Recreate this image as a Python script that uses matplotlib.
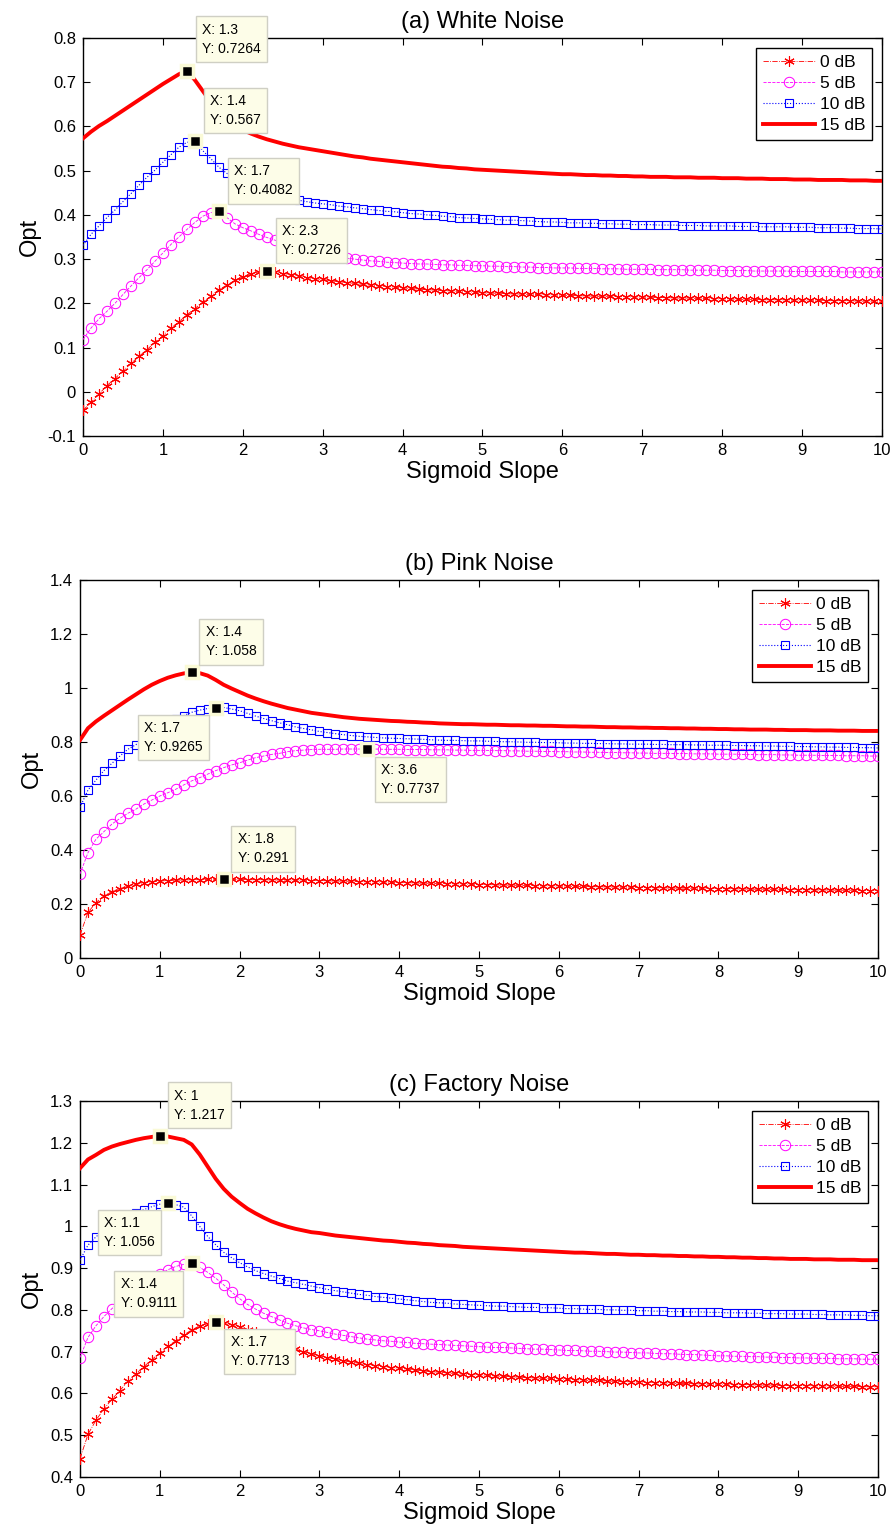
import matplotlib
matplotlib.use('Agg')
import matplotlib.pyplot as plt
import numpy as np
from matplotlib.ticker import FormatStrFormatter, MultipleLocator

plt.rcParams['font.family'] = ['Liberation Sans', 'DejaVu Sans']
plt.rcParams['axes.unicode_minus'] = False

# ---------------- data ----------------
slope = np.linspace(0, 10, 101)
labels = ['0 dB', '5 dB', '10 dB', '15 dB']
titles = ['(a) White Noise', '(b) Pink Noise', '(c) Factory Noise']

white_0 = [
-0.042, -0.024, -0.005, 0.014, 0.030, 0.047, 0.064, 0.080, 0.095, 0.112,
0.127, 0.144, 0.158, 0.174, 0.188, 0.203, 0.216, 0.231, 0.241, 0.252,
0.260, 0.267, 0.271, 0.2726, 0.270, 0.267, 0.264, 0.261, 0.258, 0.256,
0.254, 0.251, 0.249, 0.247, 0.245, 0.243, 0.241, 0.239, 0.238, 0.236,
0.235, 0.234, 0.232, 0.231, 0.230, 0.229, 0.228, 0.227, 0.226, 0.225,
0.224, 0.223, 0.223, 0.222, 0.221, 0.221, 0.220, 0.220, 0.219, 0.219,
0.218, 0.218, 0.217, 0.217, 0.216, 0.216, 0.216, 0.215, 0.215, 0.214,
0.214, 0.214, 0.213, 0.213, 0.212, 0.212, 0.212, 0.211, 0.211, 0.210,
0.210, 0.210, 0.209, 0.209, 0.209, 0.208, 0.208, 0.208, 0.208, 0.207,
0.207, 0.207, 0.207, 0.206, 0.206, 0.206, 0.206, 0.205, 0.205, 0.205,
0.205]
white_5 = [
0.118, 0.144, 0.165, 0.182, 0.200, 0.220, 0.239, 0.258, 0.276, 0.295,
0.314, 0.333, 0.350, 0.367, 0.383, 0.397, 0.405, 0.4082, 0.394, 0.380,
0.371, 0.364, 0.356, 0.349, 0.343, 0.336, 0.330, 0.324, 0.319, 0.315,
0.311, 0.308, 0.305, 0.302, 0.300, 0.298, 0.296, 0.295, 0.293, 0.292,
0.291, 0.290, 0.289, 0.289, 0.288, 0.287, 0.287, 0.286, 0.286, 0.285,
0.285, 0.284, 0.284, 0.283, 0.283, 0.282, 0.282, 0.281, 0.281, 0.280,
0.280, 0.280, 0.279, 0.279, 0.279, 0.278, 0.278, 0.278, 0.277, 0.277,
0.277, 0.277, 0.276, 0.276, 0.276, 0.276, 0.275, 0.275, 0.275, 0.275,
0.274, 0.274, 0.274, 0.274, 0.273, 0.273, 0.273, 0.273, 0.273, 0.272,
0.272, 0.272, 0.272, 0.272, 0.272, 0.271, 0.271, 0.271, 0.271, 0.271,
0.271]
white_10 = [
0.331, 0.356, 0.375, 0.394, 0.411, 0.430, 0.448, 0.467, 0.485, 0.501,
0.519, 0.536, 0.553, 0.564, 0.567, 0.545, 0.527, 0.508, 0.494, 0.482,
0.472, 0.464, 0.457, 0.451, 0.446, 0.441, 0.437, 0.433, 0.430, 0.427,
0.425, 0.423, 0.420, 0.418, 0.416, 0.414, 0.412, 0.410, 0.408, 0.407,
0.405, 0.403, 0.402, 0.400, 0.399, 0.397, 0.396, 0.394, 0.393, 0.392,
0.391, 0.390, 0.389, 0.388, 0.388, 0.387, 0.386, 0.385, 0.384, 0.384,
0.383, 0.382, 0.382, 0.381, 0.381, 0.380, 0.380, 0.379, 0.379, 0.378,
0.378, 0.378, 0.377, 0.377, 0.377, 0.376, 0.376, 0.376, 0.375, 0.375,
0.375, 0.375, 0.374, 0.374, 0.374, 0.373, 0.373, 0.373, 0.373, 0.372,
0.372, 0.372, 0.371, 0.371, 0.371, 0.370, 0.370, 0.369, 0.369, 0.369,
0.368]
white_15 = [
0.573, 0.588, 0.601, 0.612, 0.624, 0.636, 0.648, 0.660, 0.672, 0.684,
0.696, 0.707, 0.718, 0.7264, 0.705, 0.680, 0.655, 0.635, 0.618, 0.603,
0.592, 0.584, 0.577, 0.571, 0.566, 0.561, 0.557, 0.553, 0.550, 0.547,
0.544, 0.541, 0.538, 0.535, 0.532, 0.530, 0.527, 0.525, 0.523, 0.521,
0.519, 0.517, 0.515, 0.513, 0.511, 0.509, 0.508, 0.506, 0.505, 0.503,
0.502, 0.501, 0.500, 0.499, 0.498, 0.497, 0.496, 0.495, 0.494, 0.493,
0.492, 0.492, 0.491, 0.490, 0.490, 0.489, 0.489, 0.488, 0.488, 0.487,
0.487, 0.486, 0.486, 0.486, 0.485, 0.485, 0.485, 0.484, 0.484, 0.484,
0.483, 0.483, 0.483, 0.482, 0.482, 0.482, 0.481, 0.481, 0.481, 0.480,
0.480, 0.480, 0.479, 0.479, 0.479, 0.479, 0.478, 0.478, 0.478, 0.477,
0.477]

pink_0 = [
0.085, 0.169, 0.205, 0.230, 0.246, 0.257, 0.267, 0.273, 0.278, 0.282,
0.285, 0.287, 0.288, 0.289, 0.290, 0.290, 0.291, 0.291, 0.291, 0.291,
0.291, 0.290, 0.290, 0.290, 0.289, 0.289, 0.289, 0.288, 0.288, 0.287,
0.287, 0.286, 0.285, 0.285, 0.284, 0.283, 0.282, 0.282, 0.281, 0.280,
0.279, 0.279, 0.278, 0.277, 0.277, 0.276, 0.275, 0.275, 0.274, 0.273,
0.272, 0.272, 0.271, 0.270, 0.270, 0.269, 0.269, 0.268, 0.267, 0.267,
0.266, 0.266, 0.265, 0.265, 0.264, 0.264, 0.263, 0.263, 0.262, 0.262,
0.261, 0.261, 0.260, 0.260, 0.259, 0.259, 0.259, 0.258, 0.258, 0.257,
0.257, 0.257, 0.256, 0.256, 0.255, 0.255, 0.255, 0.254, 0.254, 0.253,
0.253, 0.253, 0.252, 0.252, 0.252, 0.251, 0.251, 0.251, 0.250, 0.250,
0.250]
pink_5 = [
0.311, 0.390, 0.440, 0.468, 0.496, 0.517, 0.536, 0.551, 0.570, 0.585,
0.600, 0.612, 0.625, 0.641, 0.656, 0.668, 0.681, 0.694, 0.705, 0.715,
0.723, 0.733, 0.742, 0.748, 0.754, 0.758, 0.764, 0.768, 0.770, 0.772,
0.773, 0.773, 0.773, 0.774, 0.774, 0.774, 0.7737, 0.774, 0.773, 0.773,
0.773, 0.772, 0.772, 0.772, 0.771, 0.771, 0.771, 0.770, 0.770, 0.769,
0.769, 0.769, 0.768, 0.768, 0.767, 0.767, 0.766, 0.766, 0.765, 0.765,
0.764, 0.764, 0.763, 0.763, 0.762, 0.762, 0.761, 0.761, 0.760, 0.760,
0.759, 0.759, 0.758, 0.758, 0.758, 0.757, 0.757, 0.756, 0.756, 0.756,
0.755, 0.755, 0.755, 0.754, 0.754, 0.753, 0.753, 0.753, 0.752, 0.752,
0.751, 0.751, 0.751, 0.750, 0.750, 0.750, 0.749, 0.749, 0.749, 0.748,
0.748]
pink_10 = [
0.558, 0.622, 0.659, 0.694, 0.721, 0.748, 0.773, 0.790, 0.810, 0.830,
0.850, 0.868, 0.884, 0.898, 0.910, 0.918, 0.924, 0.9265, 0.928, 0.922,
0.916, 0.906, 0.896, 0.887, 0.879, 0.871, 0.864, 0.856, 0.850, 0.845,
0.839, 0.835, 0.831, 0.827, 0.824, 0.821, 0.819, 0.817, 0.815, 0.814,
0.813, 0.812, 0.811, 0.810, 0.808, 0.807, 0.806, 0.806, 0.805, 0.804,
0.804, 0.803, 0.802, 0.801, 0.801, 0.800, 0.799, 0.799, 0.798, 0.798,
0.797, 0.796, 0.796, 0.795, 0.795, 0.794, 0.794, 0.793, 0.793, 0.792,
0.792, 0.792, 0.791, 0.791, 0.790, 0.790, 0.790, 0.789, 0.789, 0.788,
0.788, 0.788, 0.787, 0.787, 0.786, 0.786, 0.785, 0.785, 0.784, 0.784,
0.783, 0.783, 0.782, 0.782, 0.781, 0.781, 0.780, 0.780, 0.779, 0.779,
0.778]
pink_15 = [
0.807, 0.851, 0.876, 0.897, 0.917, 0.937, 0.957, 0.976, 0.995, 1.012,
1.026, 1.038, 1.047, 1.054, 1.058, 1.055, 1.046, 1.030, 1.012, 0.998,
0.985, 0.972, 0.961, 0.951, 0.942, 0.934, 0.926, 0.920, 0.914, 0.908,
0.904, 0.900, 0.896, 0.892, 0.889, 0.886, 0.884, 0.882, 0.880, 0.878,
0.877, 0.875, 0.874, 0.872, 0.871, 0.869, 0.868, 0.867, 0.866, 0.866,
0.865, 0.864, 0.864, 0.863, 0.862, 0.862, 0.861, 0.861, 0.860, 0.860,
0.859, 0.858, 0.858, 0.857, 0.857, 0.856, 0.855, 0.855, 0.854, 0.854,
0.853, 0.853, 0.852, 0.852, 0.851, 0.851, 0.850, 0.850, 0.849, 0.849,
0.848, 0.848, 0.847, 0.847, 0.846, 0.846, 0.846, 0.845, 0.845, 0.844,
0.844, 0.844, 0.843, 0.843, 0.843, 0.842, 0.842, 0.842, 0.841, 0.841,
0.841]

factory_0 = [
0.444, 0.502, 0.536, 0.563, 0.586, 0.607, 0.629, 0.647, 0.664, 0.681,
0.697, 0.713, 0.726, 0.740, 0.752, 0.762, 0.767, 0.7713, 0.769, 0.765,
0.760, 0.753, 0.746, 0.738, 0.730, 0.722, 0.714, 0.706, 0.700, 0.695,
0.690, 0.686, 0.682, 0.678, 0.675, 0.672, 0.669, 0.666, 0.664, 0.662,
0.660, 0.658, 0.656, 0.654, 0.652, 0.651, 0.649, 0.648, 0.646, 0.645,
0.644, 0.643, 0.642, 0.641, 0.640, 0.639, 0.638, 0.637, 0.636, 0.636,
0.635, 0.634, 0.633, 0.632, 0.631, 0.631, 0.630, 0.629, 0.628, 0.628,
0.627, 0.626, 0.626, 0.625, 0.625, 0.624, 0.624, 0.623, 0.623, 0.622,
0.622, 0.622, 0.621, 0.621, 0.621, 0.620, 0.620, 0.620, 0.619, 0.619,
0.619, 0.619, 0.618, 0.618, 0.618, 0.617, 0.617, 0.617, 0.616, 0.616,
0.616]
factory_5 = [
0.686, 0.734, 0.762, 0.784, 0.803, 0.820, 0.836, 0.850, 0.863, 0.875,
0.886, 0.896, 0.904, 0.909, 0.9111, 0.902, 0.890, 0.876, 0.860, 0.843,
0.827, 0.813, 0.802, 0.792, 0.784, 0.776, 0.768, 0.762, 0.757, 0.753,
0.750, 0.746, 0.742, 0.739, 0.736, 0.733, 0.730, 0.728, 0.726, 0.725,
0.723, 0.722, 0.720, 0.719, 0.718, 0.717, 0.716, 0.715, 0.714, 0.713,
0.712, 0.711, 0.710, 0.710, 0.709, 0.708, 0.707, 0.706, 0.706, 0.705,
0.704, 0.703, 0.703, 0.702, 0.701, 0.701, 0.700, 0.699, 0.699, 0.698,
0.697, 0.697, 0.696, 0.695, 0.695, 0.694, 0.693, 0.693, 0.692, 0.691,
0.690, 0.690, 0.689, 0.689, 0.688, 0.688, 0.687, 0.687, 0.686, 0.686,
0.685, 0.685, 0.684, 0.684, 0.684, 0.683, 0.683, 0.683, 0.682, 0.682,
0.682]
factory_10 = [
0.919, 0.955, 0.975, 0.990, 1.002, 1.013, 1.023, 1.032, 1.040, 1.047,
1.053, 1.056, 1.052, 1.046, 1.025, 1.000, 0.976, 0.956, 0.938, 0.925,
0.913, 0.903, 0.894, 0.887, 0.881, 0.875, 0.869, 0.865, 0.861, 0.857,
0.853, 0.849, 0.846, 0.843, 0.840, 0.837, 0.835, 0.832, 0.830, 0.828,
0.826, 0.824, 0.822, 0.820, 0.818, 0.817, 0.816, 0.814, 0.813, 0.812,
0.811, 0.810, 0.809, 0.809, 0.808, 0.807, 0.806, 0.806, 0.805, 0.805,
0.804, 0.803, 0.803, 0.802, 0.801, 0.801, 0.800, 0.800, 0.799, 0.799,
0.798, 0.798, 0.797, 0.797, 0.796, 0.796, 0.795, 0.795, 0.795, 0.794,
0.794, 0.793, 0.793, 0.793, 0.792, 0.792, 0.791, 0.791, 0.791, 0.790,
0.790, 0.790, 0.789, 0.789, 0.788, 0.788, 0.788, 0.787, 0.787, 0.786,
0.786]
factory_15 = [
1.139, 1.160, 1.171, 1.183, 1.191, 1.197, 1.202, 1.207, 1.211, 1.214,
1.217, 1.215, 1.211, 1.207, 1.196, 1.172, 1.143, 1.114, 1.090, 1.071,
1.056, 1.042, 1.031, 1.021, 1.012, 1.005, 0.999, 0.994, 0.990, 0.986,
0.984, 0.981, 0.978, 0.976, 0.974, 0.972, 0.970, 0.968, 0.966, 0.965,
0.963, 0.961, 0.960, 0.958, 0.957, 0.955, 0.954, 0.953, 0.951, 0.950,
0.949, 0.948, 0.947, 0.946, 0.945, 0.944, 0.943, 0.942, 0.941, 0.940,
0.939, 0.938, 0.937, 0.937, 0.936, 0.935, 0.934, 0.934, 0.933, 0.932,
0.932, 0.931, 0.931, 0.930, 0.930, 0.929, 0.929, 0.928, 0.928, 0.927,
0.927, 0.926, 0.926, 0.925, 0.925, 0.924, 0.924, 0.923, 0.923, 0.922,
0.922, 0.922, 0.921, 0.921, 0.921, 0.920, 0.920, 0.920, 0.919, 0.919,
0.919]

# data tips: (x, y) per panel
tips_white = [(1.3, 0.7264), (1.4, 0.567), (1.7, 0.4082), (2.3, 0.2726)]
tips_pink = [(1.4, 1.058), (1.7, 0.9265), (3.6, 0.7737), (1.8, 0.291)]
tips_factory = [(1.0, 1.217), (1.1, 1.056), (1.4, 0.9111), (1.7, 0.7713)]

# ---------------- layout / style ----------------
W, H = 894, 1535
fig = plt.figure(figsize=(W / 100, H / 100), dpi=100)

def px_axes(x0, x1, y0, y1):
    return [x0 / W, 1 - y1 / H, (x1 - x0) / W, (y1 - y0) / H]

panels = [
    dict(rect=px_axes(83, 882, 38, 436), series=[white_0, white_5, white_10, white_15],
         ylim=(-0.1, 0.8), ystep=0.1, tips=tips_white,
         offs=[(15, 15, 'left', 'bottom'), (15, 14, 'left', 'bottom'),
               (15, 14, 'left', 'bottom'), (15, 14, 'left', 'bottom')]),
    dict(rect=px_axes(80, 878, 580, 958), series=[pink_0, pink_5, pink_10, pink_15],
         ylim=(0, 1.4), ystep=0.2, tips=tips_pink,
         offs=[(14, 14, 'left', 'bottom'), (-13, -13, 'right', 'top'),
               (14, -14, 'left', 'top'), (14, 14, 'left', 'bottom')]),
    dict(rect=px_axes(80, 878, 1101, 1477), series=[factory_0, factory_5, factory_10, factory_15],
         ylim=(0.4, 1.3), ystep=0.1, tips=tips_factory,
         offs=[(14, 14, 'left', 'bottom'), (-13, -13, 'right', 'top'),
               (-15, -14, 'right', 'top'), (15, -13, 'left', 'top')]),
]

asterisk = (6, 2, 0)

for title, p in zip(titles, panels):
    ax = fig.add_axes(p['rect'])
    s0, s5, s10, s15 = p['series']
    ax.plot(slope, s0, color='#FF0000', ls='-.', lw=0.6, marker=asterisk, ms=7.5,
            mew=0.8, label=labels[0], zorder=3)
    ax.plot(slope, s5, color='#FF00FF', ls='--', lw=0.6, marker='o', mfc='none', ms=7.5,
            mew=0.7, label=labels[1], zorder=3)
    ax.plot(slope, s10, color='#0000FF', ls=':', lw=0.8, marker='s', mfc='none', ms=6.4,
            mew=0.8, label=labels[2], zorder=3)
    ax.plot(slope, s15, color='#FF0000', ls='-', lw=2.8, label=labels[3], zorder=3)

    ax.set_xlim(0, 10)
    ax.set_ylim(*p['ylim'])
    ax.xaxis.set_major_locator(MultipleLocator(1))
    ax.yaxis.set_major_locator(MultipleLocator(p['ystep']))
    ax.yaxis.set_major_formatter(FormatStrFormatter('%g'))
    ax.xaxis.set_major_formatter(FormatStrFormatter('%g'))
    ax.tick_params(direction='in', top=True, right=True, length=5, width=0.8,
                   labelsize=12, pad=5)
    for sp in ax.spines.values():
        sp.set_linewidth(1.0)

    ax.set_title(title, fontsize=17, pad=7)
    ax.set_xlabel('Sigmoid Slope', fontsize=17, labelpad=2)
    ax.set_ylabel('Opt', fontsize=17, labelpad=5)

    leg = ax.legend(loc='upper right', fontsize=12.5, numpoints=1, handlelength=3.0,
                    handletextpad=0.3, labelspacing=0.35, borderpad=0.4,
                    borderaxespad=0.55, fancybox=False, framealpha=1)
    leg.get_frame().set_edgecolor('black')
    leg.get_frame().set_linewidth(1.0)
    leg.set_zorder(10)

    for (tx, ty), (dx, dy, ha, va) in zip(p['tips'], p['offs']):
        ax.plot([tx], [ty], marker='s', ms=8.5, mfc='black', mec='#FAFAD6', mew=2.5,
                ls='none', zorder=8)
        ax.annotate('X: %g\nY: %g' % (tx, ty), xy=(tx, ty), xytext=(dx, dy),
                    textcoords='offset pixels', ha=ha, va=va, fontsize=10,
                    multialignment='left', linespacing=1.45, annotation_clip=False,
                    zorder=9,
                    bbox=dict(boxstyle='square,pad=0.45', fc='#FDFDE8', ec='#CFCFC4', lw=1))

fig.savefig('out.png', dpi=100)
